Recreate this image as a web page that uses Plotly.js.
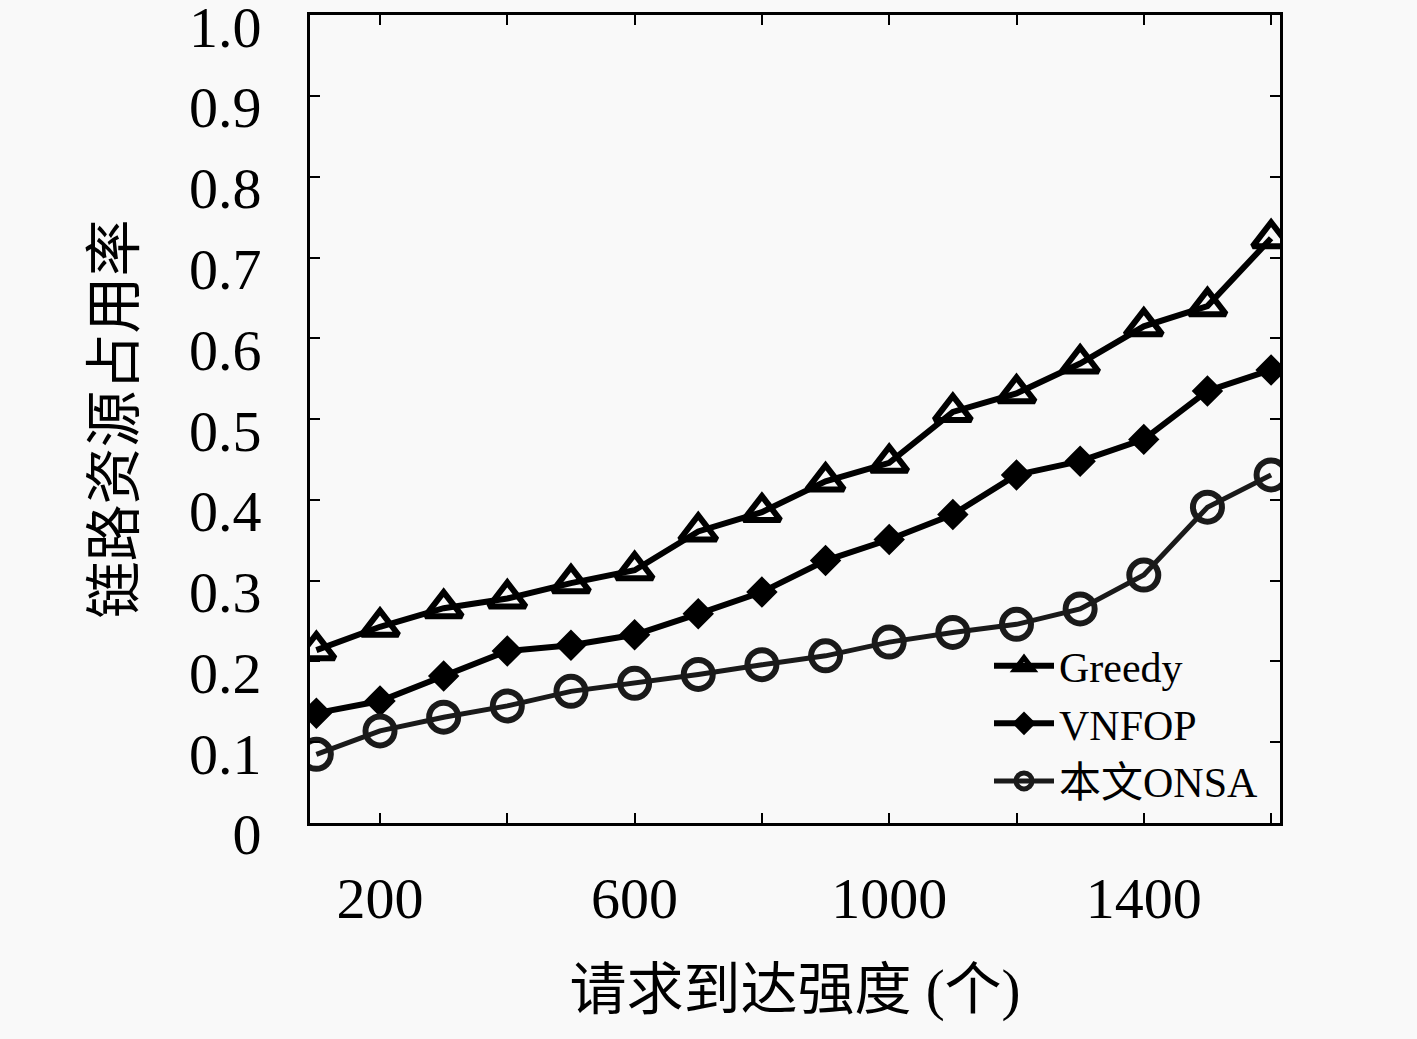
<!DOCTYPE html>
<html>
<head>
<meta charset="utf-8">
<script src="https://cdn.plot.ly/plotly-3.0.1.min.js"></script>
<style>
  body { margin: 0; background: #f9f9f9; }
  #chart { width: 1417px; height: 1039px; }
</style>
</head>
<body>
<div id="chart"></div>
<script>
// request arrival intensity
var arrivals = [100, 200, 300, 400, 500, 600, 700, 800, 900, 1000, 1100, 1200, 1300, 1400, 1500, 1600];

// link resource usage
var greedy = [0.214, 0.243, 0.266, 0.278, 0.297, 0.313, 0.361, 0.385, 0.423, 0.446, 0.509, 0.532, 0.569, 0.615, 0.640, 0.724];
var vnfop  = [0.136, 0.151, 0.182, 0.213, 0.220, 0.233, 0.259, 0.286, 0.325, 0.351, 0.382, 0.431, 0.448, 0.475, 0.535, 0.561];
var onsa   = [0.085, 0.114, 0.131, 0.145, 0.163, 0.173, 0.184, 0.196, 0.207, 0.224, 0.236, 0.246, 0.265, 0.307, 0.391, 0.431];

var xTickVals = [200, 400, 600, 800, 1000, 1200, 1400, 1600];
var xTickText = ['200', '', '600', '', '1000', '', '1400', ''];
var yTickVals = [0, 0.1, 0.2, 0.3, 0.4, 0.5, 0.6, 0.7, 0.8, 0.9, 1.0];
var yTickText = ['0', '0.1', '0.2', '0.3', '0.4', '0.5', '0.6', '0.7', '0.8', '0.9', '1.0'];

var serif = '"Liberation Serif", "Noto Sans CJK SC", serif';

var traceGreedy = {
    x: arrivals,
    y: greedy,
    name: 'Greedy',
    mode: 'lines+markers',
    line: {color: '#000', width: 6},
    marker: {symbol: 'triangle-up-open', size: 32, color: '#000', line: {width: 6, color: '#000'}}
};
var traceVnfop = {
    x: arrivals,
    y: vnfop,
    name: 'VNFOP',
    mode: 'lines+markers',
    line: {color: '#000', width: 6},
    marker: {symbol: 'diamond', size: 22, color: '#000', line: {width: 2, color: '#000'}}
};
var traceOnsa = {
    x: arrivals,
    y: onsa,
    name: '本文ONSA',
    mode: 'lines+markers',
    line: {color: '#1a1a1a', width: 5},
    marker: {symbol: 'circle-open', size: 29, color: '#1a1a1a', line: {width: 6, color: '#1a1a1a'}}
};

var axisCommon = {
    showgrid: false,
    zeroline: false,
    showline: true,
    linecolor: '#000',
    linewidth: 3,
    mirror: 'ticks',
    ticks: 'inside',
    ticklen: 10,
    tickwidth: 2,
    tickcolor: '#000',
    ticklabeloverflow: 'allow',
    tickfont: {family: serif, size: 58, color: '#000'}
};

var layout = {
    width: 1417,
    height: 1039,
    margin: {l: 310, r: 137, t: 15, b: 216},
    paper_bgcolor: '#f9f9f9',
    plot_bgcolor: '#f9f9f9',
    showlegend: true,
    legend: {
        x: 0.70, y: 0.01, xanchor: 'left', yanchor: 'bottom',
        bgcolor: 'rgba(0,0,0,0)',
        font: {family: serif, size: 42, color: '#000'},
        tracegroupgap: 0,
        itemwidth: 60
    },
    xaxis: Object.assign({}, axisCommon, {
        range: [90, 1614],
        tickmode: 'array',
        tickvals: xTickVals,
        ticktext: xTickText,
        ticklabelstandoff: 22,
        title: {text: '请求到达强度 (个)', font: {family: serif, size: 57, color: '#000'}, standoff: 40}
    }),
    yaxis: Object.assign({}, axisCommon, {
        range: [0, 1.0005],
        tickmode: 'array',
        tickvals: yTickVals,
        ticktext: yTickText,
        ticklabelstandoff: 34,
        ticklabelshift: 11,
        title: {text: '链路资源占用率', font: {family: serif, size: 57, color: '#000'}, standoff: 36}
    })
};

Plotly.newPlot('chart', [traceGreedy, traceVnfop, traceOnsa], layout, {staticPlot: true});
</script>
</body>
</html>
